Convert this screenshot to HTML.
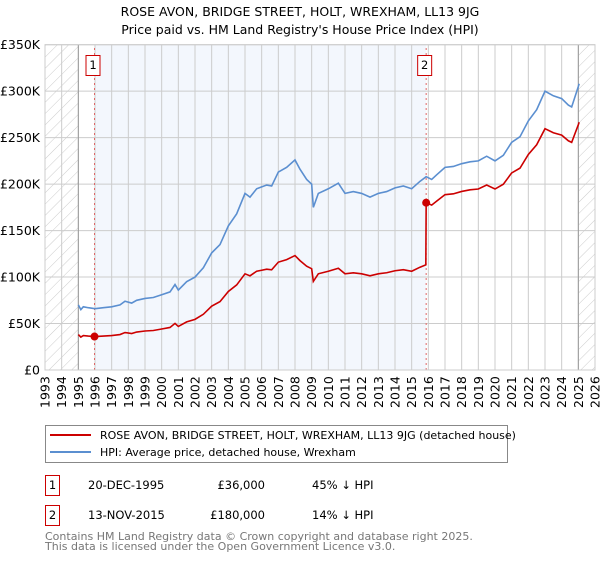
<!DOCTYPE html>
<html><head><meta charset="utf-8"><style>
body{margin:0;background:#fff;font-family:"DejaVu Sans","Liberation Sans",sans-serif;}
svg text{font-family:"DejaVu Sans","Liberation Sans",sans-serif;}
</style></head><body>
<svg id="chart" width="600" height="560" xmlns="http://www.w3.org/2000/svg">
<defs><pattern id="hatch" width="8" height="8" patternUnits="userSpaceOnUse" patternTransform="rotate(45)"><line x1="0" y1="0" x2="0" y2="8" stroke="#ccc" stroke-width="1"/></pattern></defs>
<text x="300" y="16" text-anchor="middle" font-size="12.5">ROSE AVON, BRIDGE STREET, HOLT, WREXHAM, LL13 9JG</text>
<text x="300" y="34" text-anchor="middle" font-size="12.5">Price paid vs. HM Land Registry's House Price Index (HPI)</text>
<g id="plot"></g>
<g>
<rect x="45.5" y="425.5" width="462" height="37" fill="#fff" stroke="#888"/>
<line x1="50" y1="435" x2="91" y2="435" stroke="#cc0000" stroke-width="2"/>
<text x="100" y="439" font-size="11">ROSE AVON, BRIDGE STREET, HOLT, WREXHAM, LL13 9JG (detached house)</text>
<line x1="50" y1="452" x2="91" y2="452" stroke="#5b8fd0" stroke-width="2"/>
<text x="100" y="456" font-size="11">HPI: Average price, detached house, Wrexham</text>
</g>
<g font-size="11.5">
<rect x="45.5" y="475.5" width="14" height="20" fill="#fff" stroke="#cc0000"/>
<text x="52.5" y="489" text-anchor="middle">1</text>
<text x="88" y="489">20-DEC-1995</text>
<text x="265" y="489" text-anchor="end">£36,000</text>
<text x="312" y="489">45% ↓ HPI</text>
<rect x="45.5" y="505.5" width="14" height="20" fill="#fff" stroke="#cc0000"/>
<text x="52.5" y="519" text-anchor="middle">2</text>
<text x="88" y="519">13-NOV-2015</text>
<text x="265" y="519" text-anchor="end">£180,000</text>
<text x="312" y="519">14% ↓ HPI</text>
</g>
<g font-size="11" fill="#777">
<text x="45" y="540">Contains HM Land Registry data © Crown copyright and database right 2025.</text>
<text x="45" y="550">This data is licensed under the Open Government Licence v3.0.</text>
</g>
</svg>
<script>
const yTicks=[0,50,100,150,200,250,300,350];
const yTickLabels=["£0","£50K","£100K","£150K","£200K","£250K","£300K","£350K"];
const years=[1993,1994,1995,1996,1997,1998,1999,2000,2001,2002,2003,2004,2005,2006,2007,2008,2009,2010,2011,2012,2013,2014,2015,2016,2017,2018,2019,2020,2021,2022,2023,2024,2025,2026];
const hpiT=[1995.0,1995.15,1995.3,1995.6,1996.0,1996.5,1997.0,1997.5,1997.8,1998.2,1998.5,1999.0,1999.5,2000.0,2000.5,2000.8,2001.0,2001.5,2002.0,2002.5,2003.0,2003.5,2004.0,2004.5,2005.0,2005.3,2005.7,2006.0,2006.3,2006.6,2007.0,2007.5,2008.0,2008.3,2008.7,2009.0,2009.1,2009.4,2010.0,2010.6,2011.0,2011.5,2012.0,2012.5,2013.0,2013.5,2014.0,2014.5,2015.0,2015.5,2015.87,2016.2,2016.5,2017.0,2017.5,2018.0,2018.5,2019.0,2019.5,2020.0,2020.5,2021.0,2021.5,2022.0,2022.5,2023.0,2023.5,2024.0,2024.4,2024.6,2025.0,2025.05];
const hpiV=[70,65,68,67,66,67,68,70,74,72,75,77,78,81,84,92,86,95,100,110,126,135,155,168,190,186,195,197,199,198,213,218,226,216,205,200,175,190,195,201,190,192,190,186,190,192,196,198,195,203,208,205,210,218,219,222,224,225,230,225,231,245,251,268,280,300,295,292,285,283,305,308];
const saleT=[1995.97,2015.87];
const saleV=[36,180];
const X=t=>45+(t-1993)*(550/33);
const Y=v=>370-v*(325.3/350);
const g=document.getElementById('plot');
const NS='http://www.w3.org/2000/svg';
function mk(tag,attrs,parent){const e=document.createElementNS(NS,tag);for(const k in attrs)e.setAttribute(k,attrs[k]);(parent||g).appendChild(e);return e;}
let e;
e=mk('rect',{x:X(1993),y:Y(350),width:X(1995)-X(1993),height:Y(0)-Y(350),fill:'url(#hatch)'});


e=mk('rect',{x:X(2025),y:Y(350),width:X(2026)-X(2025),height:Y(0)-Y(350),fill:'url(#hatch)'});


e=mk('rect',{x:X(saleT[0]),y:Y(350),width:X(saleT[1])-X(saleT[0]),height:Y(0)-Y(350),fill:'#eef3fc',opacity:0.7});


years.forEach(yr=>{e=mk('line',{x1:X(yr),x2:X(yr),y1:Y(0),y2:Y(350),stroke:'#ccc','stroke-width':1});


const t=mk('text',{x:0,y:0,'font-size':12.5,transform:`translate(${X(yr)+4.5},${408}) rotate(-90)`});t.textContent=yr;

});
yTicks.forEach((v,i)=>{e=mk('line',{x1:X(1993),x2:X(2026),y1:Y(v),y2:Y(v),stroke:'#ccc','stroke-width':1});


const t=mk('text',{x:40,y:Y(v)+4.5,'font-size':12.5,'text-anchor':'end'});t.textContent=yTickLabels[i];

});
e=mk('line',{x1:X(1995),x2:X(1995),y1:Y(0),y2:Y(350),stroke:'#999'});


e=mk('line',{x1:X(2025),x2:X(2025),y1:Y(0),y2:Y(350),stroke:'#999'});


saleT.forEach((t,i)=>{e=mk('line',{x1:X(t),x2:X(t),y1:Y(0),y2:Y(350),stroke:'#e06666','stroke-dasharray':'2,3'});


const b=mk('rect',{x:X(t)-8.5,y:55.5,width:14,height:20,fill:'#fff',stroke:'#cc0000'});


const tx=mk('text',{x:X(t)-1.5,y:69,'font-size':11.5,'text-anchor':'middle'});tx.textContent=String(i+1);

});
function hpiAt(t){for(let i=0;i<hpiT.length-1;i++){if(t>=hpiT[i]&&t<=hpiT[i+1]){return hpiV[i]+(hpiV[i+1]-hpiV[i])*(t-hpiT[i])/(hpiT[i+1]-hpiT[i]);}}return hpiV[hpiV.length-1];}
e=mk('polyline',{points:hpiT.map((t,i)=>X(t)+','+Y(hpiV[i])).join(' '),fill:'none',stroke:'#5b8fd0','stroke-width':1.6});


// price paid line: sale value indexed by HPI
const pts=[];
hpiT.forEach((t,i)=>{let k=t<saleT[1]?0:1;pts.push([t,hpiV[i]*saleV[k]/hpiAt(saleT[k])]);if(i<hpiT.length-1&&t<saleT[1]&&hpiT[i+1]>=saleT[1]){pts.push([saleT[1]-0.02,hpiAt(saleT[1]-0.02)*saleV[0]/hpiAt(saleT[0])]);pts.push([saleT[1],saleV[1]]);}});
e=mk('polyline',{points:pts.map(p=>X(p[0])+','+Y(p[1])).join(' '),fill:'none',stroke:'#cc0000','stroke-width':1.6});


saleT.forEach((t,i)=>{e=mk('circle',{cx:X(t),cy:Y(saleV[i]),r:4,fill:'#cc0000'});

});
e=mk('rect',{x:X(1993),y:Y(350),width:550,height:Y(0)-Y(350),fill:'none',stroke:'#ccc'});


</script>
</body></html>
